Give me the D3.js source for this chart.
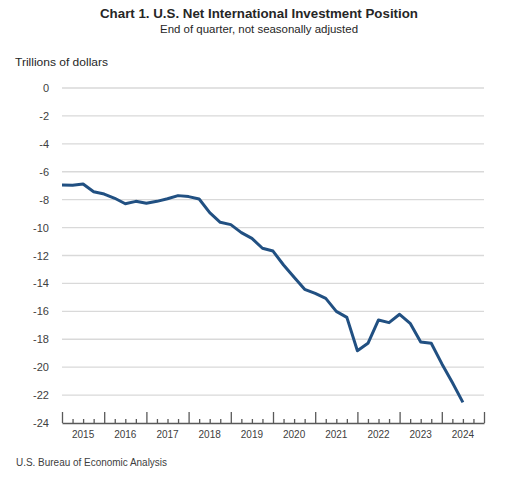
<!DOCTYPE html>
<html><head><meta charset="utf-8">
<script src="https://cdn.jsdelivr.net/npm/d3@7/dist/d3.min.js"></script>
<style>body{margin:0;background:#fff}svg{display:block}text{font-family:"Liberation Sans","DejaVu Sans",sans-serif}</style>
</head><body><svg id="c" width="506" height="479"></svg>
<script>
// Quarter labels (end of quarter), 2014Q4 .. 2024Q2
const quarters = ["2014Q4","2015Q1","2015Q2","2015Q3","2015Q4","2016Q1","2016Q2","2016Q3","2016Q4",
"2017Q1","2017Q2","2017Q3","2017Q4","2018Q1","2018Q2","2018Q3","2018Q4","2019Q1","2019Q2","2019Q3","2019Q4",
"2020Q1","2020Q2","2020Q3","2020Q4","2021Q1","2021Q2","2021Q3","2021Q4","2022Q1","2022Q2","2022Q3","2022Q4",
"2023Q1","2023Q2","2023Q3","2023Q4","2024Q1","2024Q2"];
// Net international investment position, trillions of dollars
const niip = [-6.95,-6.96,-6.88,-7.43,-7.60,-7.90,-8.29,-8.12,-8.26,-8.12,-7.93,-7.71,-7.78,-7.95,
-8.93,-9.62,-9.79,-10.36,-10.77,-11.48,-11.68,-12.68,-13.56,-14.42,-14.71,-15.07,-16.00,-16.43,
-18.82,-18.29,-16.62,-16.81,-16.21,-16.86,-18.20,-18.29,-19.75,-21.10,-22.52];
const yearLabels = ["2015","2016","2017","2018","2019","2020","2021","2022","2023","2024"];
const yTicks = [0,-2,-4,-6,-8,-10,-12,-14,-16,-18,-20,-22,-24];

const svg = d3.select("#c");
const x = d3.scaleLinear().domain([2015, 2025]).range([62, 484]);
const y = d3.scaleLinear().domain([-24, 0]).range([423, 88]);
const qTime = q => +q.slice(0,4) + (+q.slice(5)) / 4; // end of quarter

svg.append("text").attr("x",259).attr("y",18).attr("text-anchor","middle")
  .attr("font-weight","bold").attr("font-size",13).attr("fill","#262626")
  .attr("textLength",318).attr("lengthAdjust","spacingAndGlyphs")
  .text("Chart 1. U.S. Net International Investment Position");
svg.append("text").attr("x",259).attr("y",33).attr("text-anchor","middle")
  .attr("font-size",11).attr("fill","#262626")
  .attr("textLength",198).attr("lengthAdjust","spacingAndGlyphs")
  .text("End of quarter, not seasonally adjusted");
svg.append("text").attr("x",15).attr("y",66).attr("font-size",10.5).attr("fill","#262626")
  .attr("textLength",93).attr("lengthAdjust","spacingAndGlyphs")
  .text("Trillions of dollars");

// gridlines
svg.append("g").selectAll("line").data(yTicks.filter(d => d !== -24)).join("line")
  .attr("x1",62).attr("x2",484).attr("y1",d=>y(d)).attr("y2",d=>y(d))
  .attr("stroke","#d9d9d9").attr("stroke-width",1.3);

// y labels
svg.append("g").selectAll("text").data(yTicks).join("text")
  .attr("x",49).attr("y",d=>y(d)+4).attr("text-anchor","end")
  .attr("font-size",11).attr("fill","#404040").text(d=>d);

// x axis: major ticks at year boundaries, minor at quarters
const xAxis = d3.axisTop(x).tickValues(d3.range(2015, 2025.01, 0.25))
  .tickSize(0).tickFormat("");
const gx = svg.append("g").attr("transform","translate(0,423)").call(xAxis);
gx.select(".domain").attr("stroke","#595959").attr("stroke-width",1.3);
gx.selectAll(".tick line").attr("stroke","#595959").attr("stroke-width",1.3)
  .attr("y2", d => Math.abs(d - Math.round(d)) < 1e-6 ? -11 : -4);

svg.append("g").selectAll("text").data(yearLabels).join("text")
  .attr("x",(d)=>x(+d + 0.5)).attr("y",438).attr("text-anchor","middle")
  .attr("font-size",10).attr("fill","#404040").text(d=>d);

// line
const pts = quarters.map((q,i)=>({t:qTime(q), v:niip[i]}));
svg.append("path").datum(pts)
  .attr("fill","none").attr("stroke","#215082").attr("stroke-width",3)
  .attr("stroke-linejoin","round").attr("stroke-linecap","butt")
  .attr("d", d3.line().x(d=>x(d.t)).y(d=>y(d.v)));

svg.append("text").attr("x",16).attr("y",466).attr("font-size",10).attr("fill","#404040")
  .attr("textLength",151).attr("lengthAdjust","spacingAndGlyphs")
  .text("U.S. Bureau of Economic Analysis");
</script></body></html>
